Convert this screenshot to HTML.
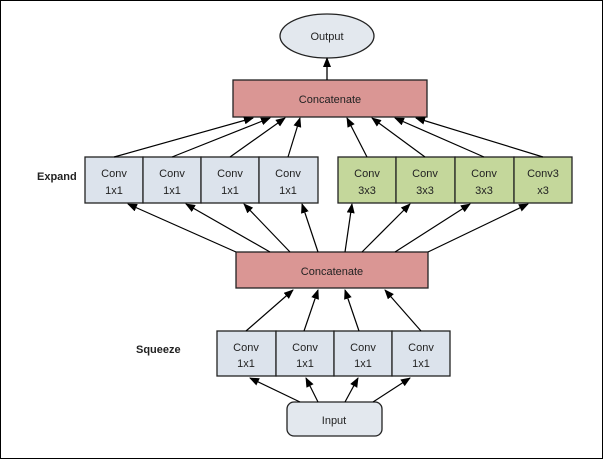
<!DOCTYPE html>
<html><head><style>
body{margin:0;background:#fff}
svg{display:block}
text{font-family:"Liberation Sans",sans-serif;font-size:11px;fill:#222}
</style></head><body>
<svg width="603" height="459" viewBox="0 0 603 459">
<defs><marker id="a" markerWidth="10" markerHeight="8" refX="9" refY="4" orient="auto" markerUnits="userSpaceOnUse"><path d="M0,0L10,4L0,8z" fill="#000"/></marker></defs>
<rect x="0.5" y="0.5" width="602" height="458" fill="#fff" stroke="#000"/>
<ellipse cx="327" cy="36" rx="47" ry="22" fill="#e3e8ee" stroke="#222" stroke-width="1.3"/>
<text x="327" y="40" text-anchor="middle" font-size="12">Output</text>
<rect x="233" y="80" width="194" height="37" fill="#da9694" stroke="#222" stroke-width="1.3"/>
<text x="330" y="103" text-anchor="middle">Concatenate</text>
<line x1="327" y1="80" x2="327" y2="58" stroke="#000" stroke-width="1.3" marker-end="url(#a)"/>
<g stroke="#222" stroke-width="1.3">
<rect x="85" y="157" width="58" height="46" fill="#dce3ec"/><rect x="143" y="157" width="58" height="46" fill="#dce3ec"/>
<rect x="201" y="157" width="58" height="46" fill="#dce3ec"/><rect x="259" y="157" width="59" height="46" fill="#dce3ec"/>
<rect x="338" y="157" width="58" height="46" fill="#c4d79b"/><rect x="396" y="157" width="59" height="46" fill="#c4d79b"/>
<rect x="455" y="157" width="59" height="46" fill="#c4d79b"/><rect x="514" y="157" width="58" height="46" fill="#c4d79b"/>
<rect x="236" y="252" width="192" height="36" fill="#da9694"/>
<rect x="217" y="331" width="59" height="45" fill="#dce3ec"/><rect x="276" y="331" width="58" height="45" fill="#dce3ec"/>
<rect x="334" y="331" width="58" height="45" fill="#dce3ec"/><rect x="392" y="331" width="58" height="45" fill="#dce3ec"/>
<rect x="287" y="402" width="95" height="34" rx="7" fill="#e3e8ee"/>
</g>
<g text-anchor="middle">
<text x="114" y="177">Conv</text><text x="114" y="194">1x1</text>
<text x="172" y="177">Conv</text><text x="172" y="194">1x1</text>
<text x="230" y="177">Conv</text><text x="230" y="194">1x1</text>
<text x="288" y="177">Conv</text><text x="288" y="194">1x1</text>
<text x="367" y="177">Conv</text><text x="367" y="194">3x3</text>
<text x="425" y="177">Conv</text><text x="425" y="194">3x3</text>
<text x="484" y="177">Conv</text><text x="484" y="194">3x3</text>
<text x="543" y="177">Conv3</text><text x="543" y="194">x3</text>
<text x="332" y="275">Concatenate</text>
<text x="246" y="351">Conv</text><text x="246" y="367">1x1</text>
<text x="305" y="351">Conv</text><text x="305" y="367">1x1</text>
<text x="363" y="351">Conv</text><text x="363" y="367">1x1</text>
<text x="421" y="351">Conv</text><text x="421" y="367">1x1</text>
<text x="334" y="424">Input</text>
</g>
<text x="37" y="180" font-weight="bold" font-size="13">Expand</text>
<text x="136" y="353" font-weight="bold" font-size="13">Squeeze</text>
<g stroke="#000" stroke-width="1.2" marker-end="url(#a)">
<line x1="114" y1="157" x2="253" y2="118"/><line x1="172" y1="157" x2="270" y2="118"/>
<line x1="230" y1="157" x2="285" y2="118"/><line x1="288" y1="157" x2="300" y2="118"/>
<line x1="367" y1="157" x2="347" y2="118"/><line x1="425" y1="157" x2="372" y2="118"/>
<line x1="484" y1="157" x2="395" y2="118"/><line x1="543" y1="157" x2="416" y2="118"/>
<line x1="236" y1="252" x2="128" y2="204"/><line x1="270" y1="252" x2="186" y2="204"/>
<line x1="290" y1="252" x2="244" y2="204"/><line x1="318" y1="252" x2="302" y2="204"/>
<line x1="345" y1="252" x2="352" y2="204"/><line x1="362" y1="252" x2="410" y2="204"/>
<line x1="395" y1="252" x2="470" y2="204"/><line x1="428" y1="252" x2="528" y2="204"/>
<line x1="246" y1="331" x2="293" y2="290"/><line x1="304" y1="331" x2="318" y2="290"/>
<line x1="359" y1="331" x2="345" y2="290"/><line x1="421" y1="331" x2="385" y2="290"/>
<line x1="300" y1="402" x2="250" y2="378"/><line x1="318" y1="402" x2="306" y2="378"/>
<line x1="345" y1="402" x2="358" y2="378"/><line x1="373" y1="402" x2="410" y2="378"/>
</g>
</svg>
</body></html>
